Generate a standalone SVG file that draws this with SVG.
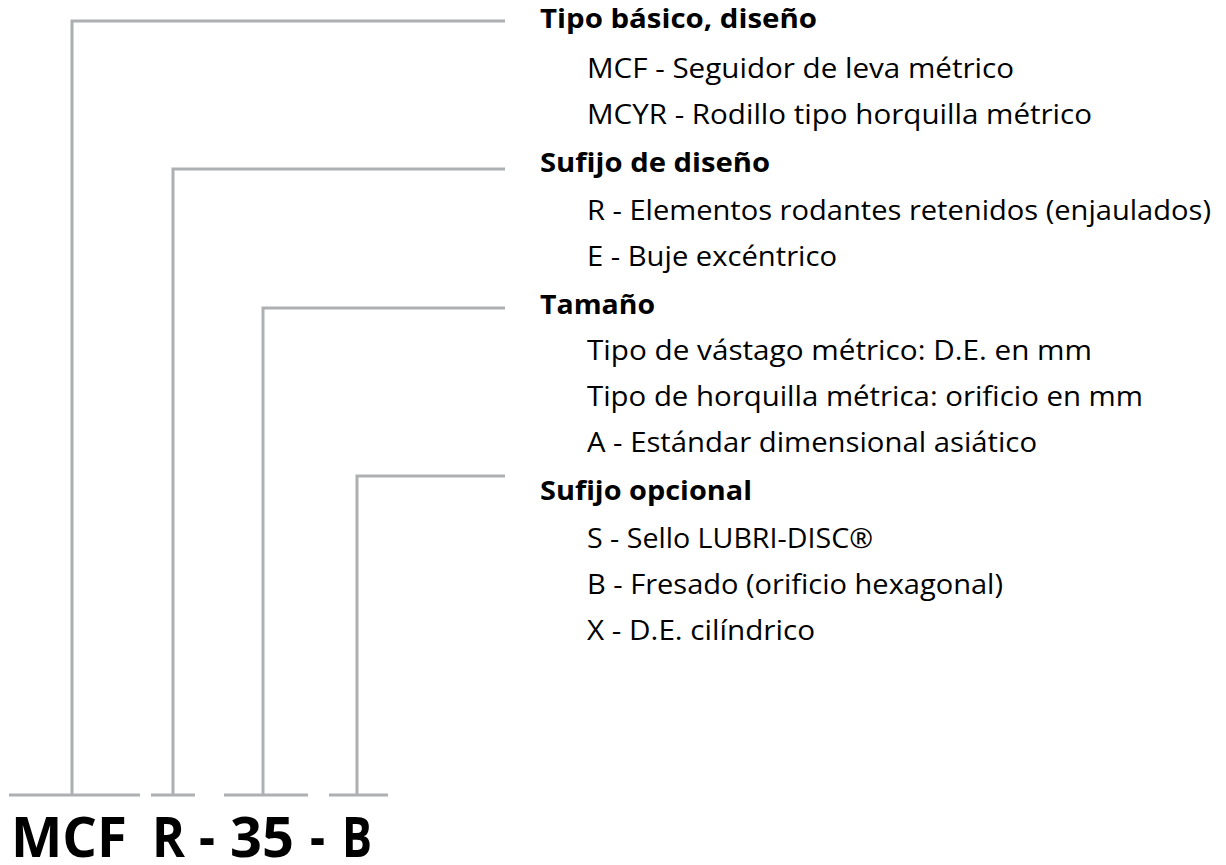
<svg xmlns="http://www.w3.org/2000/svg" width="1226" height="865" viewBox="0 0 1226 865">
<style>
.ln{fill:none;stroke:#aeafb1;stroke-width:3}
.h{font-family:"Open Sans","Liberation Sans",sans-serif;font-weight:700;font-size:27px;fill:#000}
.t{font-family:"Open Sans","Liberation Sans",sans-serif;font-weight:400;font-size:27px;fill:#000}
.code{font-family:"Open Sans","Liberation Sans",sans-serif;font-weight:700;font-size:55px;fill:#000}
</style>
<rect width="1226" height="865" fill="#fff"/>
<g id="connectors">
<path class="ln" d="M505,21 H72 V795"/>
<path class="ln" d="M505,169 H173 V795"/>
<path class="ln" d="M505,308 H263 V795"/>
<path class="ln" d="M505,476 H357 V795"/>
<path class="ln" d="M9,795 H140 M151,795 H195 M224,795 H308 M329,795 H388"/>
</g>
<g id="code">
<text class="code" x="11" y="857" textLength="116" lengthAdjust="spacingAndGlyphs">MCF</text>
<text class="code" x="152" y="857" textLength="33" lengthAdjust="spacingAndGlyphs">R</text>
<text class="code" x="199" y="857" textLength="16" lengthAdjust="spacingAndGlyphs">-</text>
<text class="code" x="230" y="857" textLength="64" lengthAdjust="spacingAndGlyphs">35</text>
<text class="code" x="310" y="857" textLength="15" lengthAdjust="spacingAndGlyphs">-</text>
<text class="code" x="342" y="857" textLength="30" lengthAdjust="spacingAndGlyphs">B</text>
</g>
<g id="tipo">
<text class="h" x="540" y="28" textLength="277" lengthAdjust="spacingAndGlyphs">Tipo básico, diseño</text>
<text class="t" x="587" y="78" textLength="427" lengthAdjust="spacingAndGlyphs">MCF - Seguidor de leva métrico</text>
<text class="t" x="587" y="124" textLength="505" lengthAdjust="spacingAndGlyphs">MCYR - Rodillo tipo horquilla métrico</text>
</g>
<g id="sufijo-diseno">
<text class="h" x="540" y="172" textLength="230" lengthAdjust="spacingAndGlyphs">Sufijo de diseño</text>
<text class="t" x="587" y="220" textLength="624" lengthAdjust="spacingAndGlyphs">R - Elementos rodantes retenidos (enjaulados)</text>
<text class="t" x="587" y="266" textLength="250" lengthAdjust="spacingAndGlyphs">E - Buje excéntrico</text>
</g>
<g id="tamano">
<text class="h" x="540" y="314" textLength="115" lengthAdjust="spacingAndGlyphs">Tamaño</text>
<text class="t" x="587" y="360" textLength="505" lengthAdjust="spacingAndGlyphs">Tipo de vástago métrico: D.E. en mm</text>
<text class="t" x="587" y="406" textLength="556" lengthAdjust="spacingAndGlyphs">Tipo de horquilla métrica: orificio en mm</text>
<text class="t" x="587" y="452" textLength="450" lengthAdjust="spacingAndGlyphs">A - Estándar dimensional asiático</text>
</g>
<g id="sufijo-opcional">
<text class="h" x="540" y="500" textLength="212" lengthAdjust="spacingAndGlyphs">Sufijo opcional</text>
<text class="t" x="587" y="548" textLength="286" lengthAdjust="spacingAndGlyphs">S - Sello LUBRI-DISC®</text>
<text class="t" x="587" y="594" textLength="416" lengthAdjust="spacingAndGlyphs">B - Fresado (orificio hexagonal)</text>
<text class="t" x="587" y="640" textLength="228" lengthAdjust="spacingAndGlyphs">X - D.E. cilíndrico</text>
</g>
</svg>
